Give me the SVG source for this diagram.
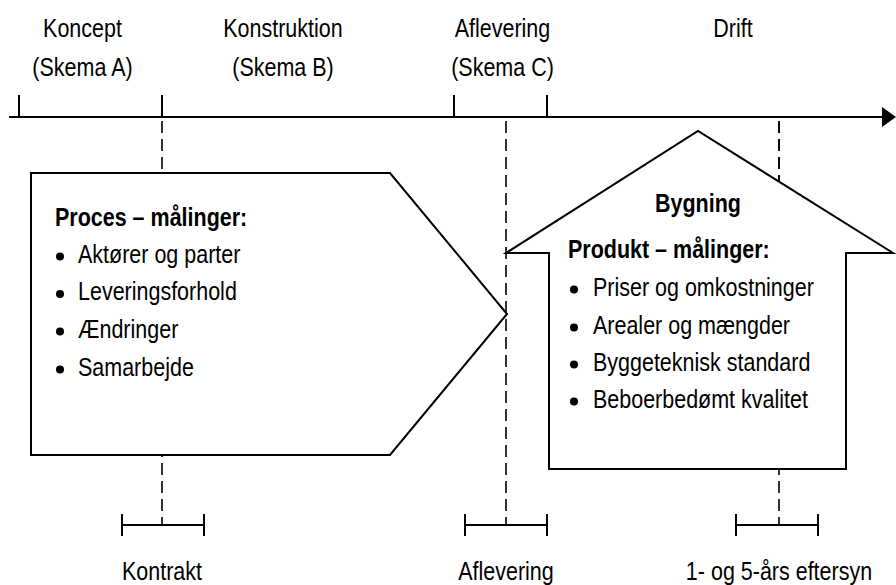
<svg xmlns="http://www.w3.org/2000/svg" width="896" height="585" viewBox="0 0 896 585">
<style>
text{font-family:"Liberation Sans",Arial,sans-serif;font-size:25px;fill:#000}
.c{text-anchor:middle}
.b{font-weight:bold}
.ln{stroke:#000;stroke-width:2;fill:none}
.sh{stroke:#000;stroke-width:2;fill:#fff}
.d{stroke:#000;stroke-width:1.6;fill:none;stroke-dasharray:12 6}
</style>
<rect width="896" height="585" fill="#fff"/>
<g id="labels-top" transform="scale(0.86,1)">
<text class="c" x="95.93" y="37">Koncept</text>
<text class="c" x="95.93" y="76">(Skema A)</text>
<text class="c" x="329.07" y="37">Konstruktion</text>
<text class="c" x="329.07" y="76">(Skema B)</text>
<text class="c" x="584.3" y="37">Aflevering</text>
<text class="c" x="584.3" y="76">(Skema C)</text>
<text class="c" x="852.33" y="37">Drift</text>
</g>
<g id="axis">
<line class="ln" x1="9" y1="117" x2="884" y2="117"/>
<polygon points="882,107 896,117 882,127" fill="#000"/>
<line class="ln" x1="19" y1="95" x2="19" y2="117"/>
<line class="ln" x1="162" y1="95" x2="162" y2="117"/>
<line class="ln" x1="454" y1="95" x2="454" y2="117"/>
<line class="ln" x1="547" y1="95" x2="547" y2="117"/>
</g>
<g id="connectors">
<line class="d" x1="162" y1="121" x2="162" y2="525"/>
<line class="d" x1="506" y1="121" x2="506" y2="525"/>
<line class="d" x1="779" y1="121" x2="779" y2="525"/>
</g>
<g id="proces">
<polygon class="sh" points="31,173 390,173 507,314 390,455 31,455"/>
<circle cx="60" cy="256.5" r="4"/>
<circle cx="60" cy="294" r="4"/>
<circle cx="60" cy="331.5" r="4"/>
<circle cx="60" cy="369.5" r="4"/>
<g transform="scale(0.86,1)">
<text class="b" x="63.95" y="226">Proces – målinger:</text>
<text x="90.7" y="263">Aktører og parter</text>
<text x="90.7" y="300.5">Leveringsforhold</text>
<text x="90.7" y="338">Ændringer</text>
<text x="90.7" y="376">Samarbejde</text>
</g>
</g>
<g id="bygning">
<polygon class="sh" points="506,253 549,253 549,469 846,469 846,253 893,253 698,131"/>
<line class="d" x1="779" y1="121" x2="779" y2="182"/>
<circle cx="574" cy="289.5" r="4"/>
<circle cx="574" cy="327.5" r="4"/>
<circle cx="574" cy="364.5" r="4"/>
<circle cx="574" cy="401.5" r="4"/>
<g transform="scale(0.86,1)">
<text class="b c" x="811.63" y="212">Bygning</text>
<text class="b" x="660.47" y="258">Produkt – målinger:</text>
<text x="689.53" y="296">Priser og omkostninger</text>
<text x="689.53" y="334">Arealer og mængder</text>
<text x="689.53" y="371">Byggeteknisk standard</text>
<text x="689.53" y="408">Beboerbedømt kvalitet</text>
</g>
</g>
<g id="kontrakt">
<line class="ln" x1="122" y1="525" x2="204" y2="525"/>
<line class="ln" x1="122" y1="514" x2="122" y2="536"/>
<line class="ln" x1="204" y1="514" x2="204" y2="536"/>
<text class="c" transform="scale(0.86,1)" x="188.37" y="580">Kontrakt</text>
</g>
<g id="aflevering">
<line class="ln" x1="465" y1="525" x2="547" y2="525"/>
<line class="ln" x1="465" y1="514" x2="465" y2="536"/>
<line class="ln" x1="547" y1="514" x2="547" y2="536"/>
<text class="c" transform="scale(0.86,1)" x="588.37" y="580">Aflevering</text>
</g>
<g id="eftersyn">
<line class="ln" x1="736" y1="525" x2="818" y2="525"/>
<line class="ln" x1="736" y1="514" x2="736" y2="536"/>
<line class="ln" x1="818" y1="514" x2="818" y2="536"/>
<text class="c" transform="scale(0.86,1)" x="905.81" y="580">1- og 5-års eftersyn</text>
</g>
</svg>
